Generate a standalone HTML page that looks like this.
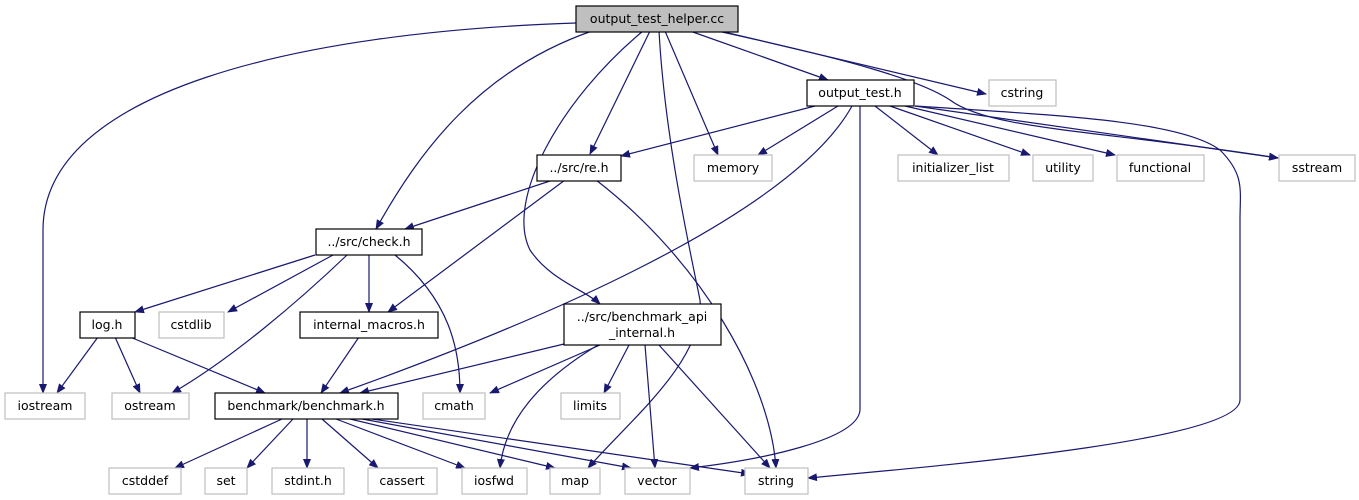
<!DOCTYPE html>
<html><head><meta charset="utf-8"><style>
body{margin:0;background:#fff;width:1359px;height:500px;overflow:hidden}
svg{display:block}
text{font-family:"DejaVu Sans","Liberation Sans",sans-serif;font-size:12.5px;fill:#000;text-anchor:middle}
.e{fill:none;stroke:#191970;stroke-width:1.2;marker-end:url(#a)}
.n{fill:#fff;stroke:#000;stroke-width:1.2}
.g{fill:#fff;stroke:#bfbfbf;stroke-width:1.2}
</style></head><body>
<svg width="1359" height="500" viewBox="0 0 1359 500">
<defs><marker id="a" markerWidth="10" markerHeight="8" refX="9" refY="4" orient="auto" markerUnits="userSpaceOnUse"><path d="M0,0 L10,4 L0,8 z" fill="#191970"/></marker></defs>
<!-- edges -->
<path class="e" d="M576,23 C300,32 43,90 43,230 L43,393"/>
<path class="e" d="M592,31 C480,70 420,150 376,229"/>
<path class="e" d="M650,31 L590,154"/>
<path class="e" d="M643,31 C560,100 505,200 530,250 C550,280 585,290 600,304"/>
<path class="e" d="M659,31 C665,140 690,250 700,300 C705,360 630,420 588,468"/>
<path class="e" d="M665,31 L718,155"/>
<path class="e" d="M690,31 L828,80"/>
<path class="e" d="M720,31 L986,94"/>
<path class="e" d="M722,32 C850,60 920,80 950,100 C990,130 1100,130 1278,158"/>
<path class="e" d="M815,106 L621,156"/>
<path class="e" d="M838,106 L758,155"/>
<path class="e" d="M852,106 C800,200 600,300 340,393"/>
<path class="e" d="M860,106 L860,410 C858,440 760,460 690,468"/>
<path class="e" d="M875,106 L938,155"/>
<path class="e" d="M890,106 L1030,155"/>
<path class="e" d="M905,106 L1115,155"/>
<path class="e" d="M915,106 L1278,158"/>
<path class="e" d="M915,106 C1050,115 1180,120 1220,150 C1245,175 1240,190 1240,220 L1240,400 C1240,440 950,465 808,478"/>
<path class="e" d="M553,180 L405,229"/>
<path class="e" d="M565,180 L388,312"/>
<path class="e" d="M596,180 C700,260 770,380 776,468"/>
<path class="e" d="M315,255 L135,312"/>
<path class="e" d="M333,255 L228,312"/>
<path class="e" d="M347,255 C300,300 230,360 172,393"/>
<path class="e" d="M369,255 L369,312"/>
<path class="e" d="M395,255 C450,300 460,350 460,393"/>
<path class="e" d="M98,337 L57,393"/>
<path class="e" d="M115,337 L140,393"/>
<path class="e" d="M130,337 L265,393"/>
<path class="e" d="M359,337 L321,393"/>
<path class="e" d="M564,344 L360,393"/>
<path class="e" d="M600,345 L490,393"/>
<path class="e" d="M629,345 L604,393"/>
<path class="e" d="M598,345 C540,380 505,420 500,468"/>
<path class="e" d="M645,345 L655,468"/>
<path class="e" d="M659,345 L770,468"/>
<path class="e" d="M282,419 L175,468"/>
<path class="e" d="M293,419 L247,468"/>
<path class="e" d="M307,419 L307,468"/>
<path class="e" d="M322,419 L378,468"/>
<path class="e" d="M336,419 L465,468"/>
<path class="e" d="M350,419 L555,468"/>
<path class="e" d="M362,419 L631,468"/>
<path class="e" d="M372,419 L750,474"/>
<!-- nodes -->
<rect x="576" y="6" width="162" height="26" fill="#bfbfbf" stroke="#000" stroke-width="1.2"/><text x="657" y="23">output_test_helper.cc</text>
<rect class="g" x="989" y="80" width="67" height="26"/><text x="1022" y="97">cstring</text>
<rect class="n" x="807" y="80" width="107" height="26"/><text x="860" y="97">output_test.h</text>
<rect class="n" x="537" y="155" width="84" height="26"/><text x="579" y="172">../src/re.h</text>
<rect class="g" x="694" y="155" width="78" height="26"/><text x="733" y="172">memory</text>
<rect class="g" x="898" y="155" width="111" height="26"/><text x="953" y="172">initializer_list</text>
<rect class="g" x="1033" y="155" width="60" height="26"/><text x="1063" y="172">utility</text>
<rect class="g" x="1117" y="155" width="87" height="26"/><text x="1160" y="172">functional</text>
<rect class="g" x="1279" y="155" width="76" height="26"/><text x="1317" y="172">sstream</text>
<rect class="n" x="316" y="229" width="106" height="26"/><text x="369" y="246">../src/check.h</text>
<rect class="n" x="80" y="312" width="55" height="26"/><text x="107" y="329">log.h</text>
<rect class="g" x="159" y="312" width="65" height="26"/><text x="191" y="329">cstdlib</text>
<rect class="n" x="300" y="312" width="138" height="26"/><text x="369" y="329">internal_macros.h</text>
<rect class="n" x="564" y="304" width="157" height="41"/><text x="642" y="321">../src/benchmark_api</text><text x="642" y="337">_internal.h</text>
<rect class="g" x="5" y="393" width="80" height="26"/><text x="45" y="410">iostream</text>
<rect class="g" x="112" y="393" width="77" height="26"/><text x="150" y="410">ostream</text>
<rect class="n" x="215" y="393" width="183" height="26"/><text x="306" y="410">benchmark/benchmark.h</text>
<rect class="g" x="423" y="393" width="62" height="26"/><text x="454" y="410">cmath</text>
<rect class="g" x="561" y="393" width="59" height="26"/><text x="590" y="410">limits</text>
<rect class="g" x="109" y="468" width="72" height="26"/><text x="145" y="485">cstddef</text>
<rect class="g" x="205" y="468" width="42" height="26"/><text x="226" y="485">set</text>
<rect class="g" x="272" y="468" width="72" height="26"/><text x="308" y="485">stdint.h</text>
<rect class="g" x="368" y="468" width="69" height="26"/><text x="402" y="485">cassert</text>
<rect class="g" x="462" y="468" width="65" height="26"/><text x="494" y="485">iosfwd</text>
<rect class="g" x="550" y="468" width="50" height="26"/><text x="575" y="485">map</text>
<rect class="g" x="625" y="468" width="65" height="26"/><text x="657" y="485">vector</text>
<rect class="g" x="745" y="468" width="63" height="26"/><text x="776" y="485">string</text>
</svg>
</body></html>
